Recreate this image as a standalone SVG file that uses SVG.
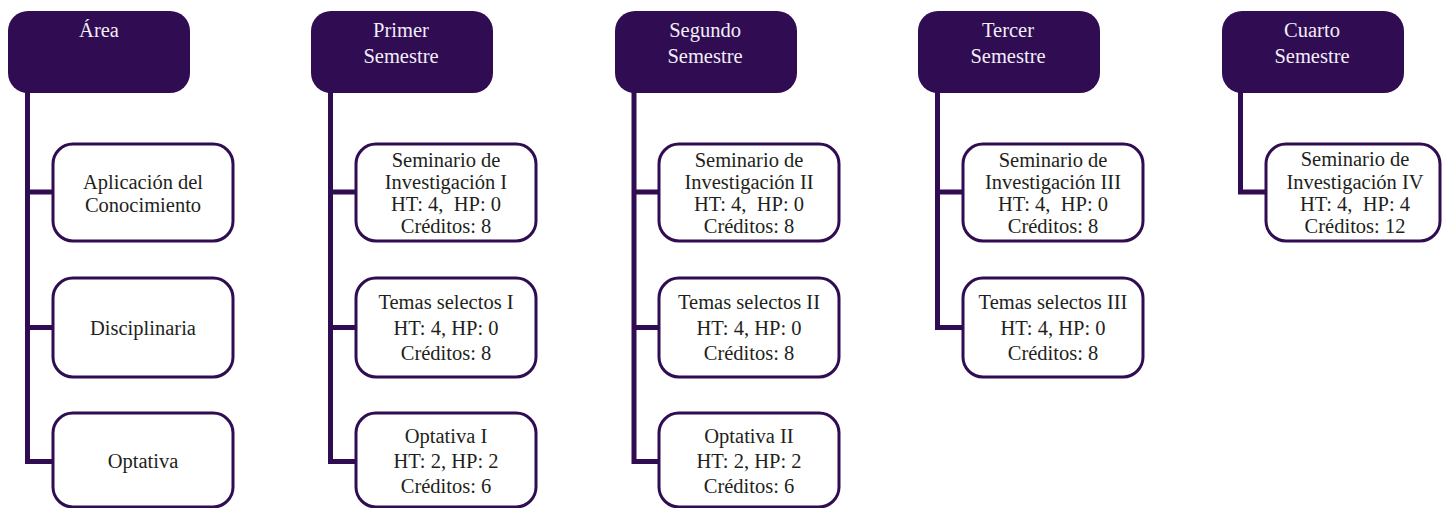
<svg xmlns="http://www.w3.org/2000/svg" width="1442" height="508" viewBox="0 0 1442 508">
<style>
.hdr{fill:#300c53;}
.box{fill:#fff;stroke:#300c53;stroke-width:3;}
.con{fill:none;stroke:#300c53;stroke-width:5;stroke-linejoin:miter;stroke-linecap:butt;}
.ht{font-family:"Liberation Serif","Times New Roman",serif;font-size:20.5px;fill:#f2eef6;text-anchor:middle;}
.bt{font-family:"Liberation Serif","Times New Roman",serif;font-size:20.5px;fill:#231f20;text-anchor:middle;}
</style>
<rect width="1442" height="508" fill="#fff"/>
<g id="connectors">
<path class="con" d="M27.5,92 V461.5 H53 M27.5,192 H53 M27.5,327.5 H53"/>
<path class="con" d="M330.5,92 V461.5 H356 M330.5,192 H356 M330.5,327.5 H356"/>
<path class="con" d="M634,92 V461.5 H659 M634,192 H659 M634,327.5 H659"/>
<path class="con" d="M937.5,92 V327.5 H963 M937.5,192 H963"/>
<path class="con" d="M1240.5,92 V192 H1266"/>
</g>
<g id="h-area"><rect class="hdr" x="8" y="11" width="182" height="82" rx="20"/><text class="ht" x="99" y="37">Área</text></g>
<g id="h-primer"><rect class="hdr" x="311" y="11" width="182" height="82" rx="20"/><text class="ht" x="401" y="37">Primer</text><text class="ht" x="401" y="63">Semestre</text></g>
<g id="h-segundo"><rect class="hdr" x="615" y="11" width="182" height="82" rx="20"/><text class="ht" x="705" y="37">Segundo</text><text class="ht" x="705" y="63">Semestre</text></g>
<g id="h-tercer"><rect class="hdr" x="918" y="11" width="182" height="82" rx="20"/><text class="ht" x="1008" y="37">Tercer</text><text class="ht" x="1008" y="63">Semestre</text></g>
<g id="h-cuarto"><rect class="hdr" x="1222" y="11" width="182" height="82" rx="20"/><text class="ht" x="1312" y="37">Cuarto</text><text class="ht" x="1312" y="63">Semestre</text></g>

<g id="a1"><rect class="box" x="53" y="144" width="180" height="97" rx="20"/><text class="bt" x="143" y="189">Aplicación del</text><text class="bt" x="143" y="212">Conocimiento</text></g>
<g id="a2"><rect class="box" x="53" y="278" width="180" height="99" rx="20"/><text class="bt" x="143" y="335">Disciplinaria</text></g>
<g id="a3"><rect class="box" x="53" y="413" width="180" height="94" rx="20"/><text class="bt" x="143" y="468">Optativa</text></g>

<g id="p1"><rect class="box" x="356" y="144" width="180" height="97" rx="20"/><text class="bt" x="446" y="167">Seminario de</text><text class="bt" x="446" y="189">Investigación I</text><text class="bt" x="446" y="211" xml:space="preserve">HT: 4,  HP: 0</text><text class="bt" x="446" y="233">Créditos: 8</text></g>
<g id="p2"><rect class="box" x="356" y="278" width="180" height="99" rx="20"/><text class="bt" x="446" y="309">Temas selectos I</text><text class="bt" x="446" y="335">HT: 4, HP: 0</text><text class="bt" x="446" y="360">Créditos: 8</text></g>
<g id="p3"><rect class="box" x="356" y="413" width="180" height="94" rx="20"/><text class="bt" x="446" y="443">Optativa I</text><text class="bt" x="446" y="468">HT: 2, HP: 2</text><text class="bt" x="446" y="493">Créditos: 6</text></g>

<g id="s1"><rect class="box" x="659" y="144" width="180" height="97" rx="20"/><text class="bt" x="749" y="167">Seminario de</text><text class="bt" x="749" y="189">Investigación II</text><text class="bt" x="749" y="211" xml:space="preserve">HT: 4,  HP: 0</text><text class="bt" x="749" y="233">Créditos: 8</text></g>
<g id="s2"><rect class="box" x="659" y="278" width="180" height="99" rx="20"/><text class="bt" x="749" y="309">Temas selectos II</text><text class="bt" x="749" y="335">HT: 4, HP: 0</text><text class="bt" x="749" y="360">Créditos: 8</text></g>
<g id="s3"><rect class="box" x="659" y="413" width="180" height="94" rx="20"/><text class="bt" x="749" y="443">Optativa II</text><text class="bt" x="749" y="468">HT: 2, HP: 2</text><text class="bt" x="749" y="493">Créditos: 6</text></g>

<g id="t1"><rect class="box" x="963" y="144" width="180" height="97" rx="20"/><text class="bt" x="1053" y="167">Seminario de</text><text class="bt" x="1053" y="189">Investigación III</text><text class="bt" x="1053" y="211" xml:space="preserve">HT: 4,  HP: 0</text><text class="bt" x="1053" y="233">Créditos: 8</text></g>
<g id="t2"><rect class="box" x="963" y="278" width="180" height="99" rx="20"/><text class="bt" x="1053" y="309">Temas selectos III</text><text class="bt" x="1053" y="335">HT: 4, HP: 0</text><text class="bt" x="1053" y="360">Créditos: 8</text></g>

<g id="c1"><rect class="box" x="1266" y="144" width="174" height="97" rx="20"/><text class="bt" x="1355" y="166">Seminario de</text><text class="bt" x="1355" y="189">Investigación IV</text><text class="bt" x="1355" y="211" xml:space="preserve">HT: 4,  HP: 4</text><text class="bt" x="1355" y="233">Créditos: 12</text></g>
</svg>
